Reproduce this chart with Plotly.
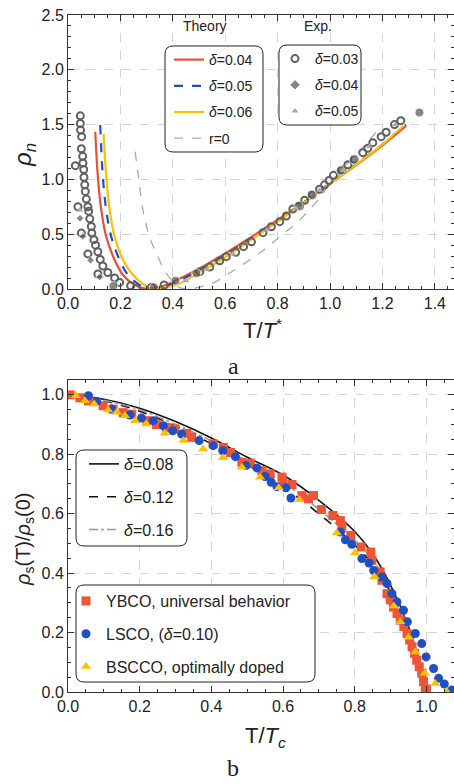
import plotly.graph_objects as go

# ---------------- panel a : rho_n vs T/T* ----------------
th04_x = [0.104, 0.114, 0.127, 0.146, 0.178, 0.21, 0.248, 0.279, 0.30, 0.32, 0.36, 0.40,
          0.5, 0.6, 0.7, 0.8, 0.9, 1.0, 1.1, 1.2, 1.29]
th04_y = [1.435, 1.025, 0.72, 0.477, 0.265, 0.128, 0.046, 0.012, 0.002, 0.004, 0.025, 0.065,
          0.185, 0.325, 0.475, 0.63, 0.79, 0.96, 1.13, 1.31, 1.487]
th05_x = [0.123, 0.133, 0.146, 0.165, 0.197, 0.229, 0.267, 0.29, 0.31, 0.33, 0.37, 0.41,
          0.5, 0.6, 0.7, 0.8, 0.9, 1.0, 1.1, 1.2, 1.29]
th05_y = [1.496, 1.025, 0.72, 0.477, 0.265, 0.128, 0.046, 0.015, 0.003, 0.004, 0.022, 0.06,
          0.17, 0.31, 0.465, 0.625, 0.79, 0.965, 1.14, 1.32, 1.50]
th06_x = [0.136, 0.146, 0.159, 0.178, 0.21, 0.248, 0.286, 0.31, 0.33, 0.35, 0.39, 0.43,
          0.5, 0.6, 0.7, 0.8, 0.9, 1.0, 1.1, 1.2, 1.28]
th06_y = [1.414, 1.025, 0.72, 0.477, 0.265, 0.128, 0.046, 0.015, 0.003, 0.004, 0.02, 0.055,
          0.15, 0.29, 0.45, 0.615, 0.785, 0.96, 1.135, 1.32, 1.49]
r0_x = [0.256, 0.269, 0.286, 0.311, 0.343, 0.368, 0.394, 0.419, 0.45, 0.48, 0.52, 0.566,
        0.62, 0.693, 0.75, 0.81, 0.88, 0.95, 1.0, 1.06, 1.12, 1.19]
r0_y = [1.253, 1.025, 0.72, 0.477, 0.295, 0.173, 0.082, 0.02, 0.0, 0.005, 0.03, 0.07,
        0.15, 0.265, 0.36, 0.48, 0.62, 0.8, 0.96, 1.13, 1.28, 1.47]

exp03_x = [0.047, 0.047, 0.048, 0.052, 0.028, 0.051, 0.056, 0.057, 0.060, 0.061, 0.064, 0.066,
           0.070, 0.076, 0.079, 0.083, 0.089, 0.091, 0.099, 0.105, 0.114, 0.123, 0.133, 0.152,
           0.178, 0.197, 0.239, 0.038, 0.051, 0.076, 0.114, 0.26, 0.319, 0.367,
           0.503, 0.541, 0.579, 0.604, 0.64, 0.67, 0.70, 0.744, 0.776, 0.808, 0.833, 0.858,
           0.884, 0.903, 0.932, 0.96, 0.979, 0.996, 1.013, 1.045, 1.068, 1.093, 1.125, 1.144,
           1.163, 1.195, 1.214, 1.246, 1.27]
exp03_y = [1.58, 1.51, 1.45, 1.39, 1.125, 1.28, 1.21, 1.15, 1.09, 1.02, 0.95, 0.89,
           0.82, 0.75, 0.71, 0.64, 0.57, 0.51, 0.45, 0.40, 0.34, 0.27, 0.21, 0.15,
           0.10, 0.06, 0.03, 0.75, 0.51, 0.32, 0.137, 0.006, 0.015, 0.036,
           0.158, 0.20, 0.258, 0.295, 0.335, 0.386, 0.43, 0.514, 0.568, 0.614, 0.666, 0.73,
           0.757, 0.81, 0.858, 0.91, 0.95, 0.99, 1.037, 1.086, 1.134, 1.183, 1.244, 1.284,
           1.335, 1.39, 1.43, 1.50, 1.536]
exp04_x = [0.046, 0.057, 0.086, 0.121, 0.173, 0.328, 0.41, 0.49, 0.88, 0.93, 1.04, 1.09, 1.341]
exp04_y = [0.645, 0.48, 0.263, 0.11, 0.027, 0.015, 0.076, 0.143, 0.76, 0.86, 1.08, 1.18, 1.61]
exp05_x = [0.045, 0.45, 0.53, 0.63, 0.76, 0.87, 0.96, 1.05, 1.15, 1.25]
exp05_y = [0.72, 0.076, 0.18, 0.32, 0.54, 0.74, 0.9, 1.08, 1.3, 1.5]

# ---------------- panel b : rho_s(T)/rho_s(0) vs T/Tc ----------------
b_x = [0.0, 0.1, 0.2, 0.3, 0.4, 0.5, 0.6, 0.7, 0.8, 0.85, 0.9, 0.95, 0.98, 1.0]
d08_y = [1.0, 0.985, 0.955, 0.91, 0.855, 0.79, 0.73, 0.645, 0.54, 0.465, 0.36, 0.22, 0.10, 0.0]
d12_y = [1.0, 0.98, 0.945, 0.895, 0.835, 0.765, 0.69, 0.60, 0.495, 0.43, 0.335, 0.20, 0.09, 0.0]
d16_y = [1.0, 0.982, 0.95, 0.90, 0.845, 0.775, 0.705, 0.615, 0.51, 0.445, 0.345, 0.21, 0.095, 0.0]

ybco_x = [0.006, 0.033, 0.057, 0.098, 0.126, 0.154, 0.178, 0.22, 0.247, 0.275, 0.298, 0.331,
          0.345, 0.405, 0.433, 0.453, 0.485, 0.509, 0.541, 0.564, 0.597, 0.60, 0.625, 0.653,
          0.671, 0.685, 0.707, 0.739, 0.76, 0.764, 0.789, 0.818, 0.845, 0.848, 0.871, 0.876,
          0.89, 0.899, 0.908, 0.918, 0.927, 0.937, 0.946, 0.953, 0.96, 0.967, 0.973, 0.98,
          0.987, 0.992, 0.997, 1.0]
ybco_y = [1.0, 0.99, 0.98, 0.963, 0.952, 0.94, 0.935, 0.913, 0.90, 0.89, 0.885, 0.87,
          0.857, 0.835, 0.823, 0.806, 0.773, 0.77, 0.745, 0.734, 0.723, 0.706, 0.698, 0.661,
          0.65, 0.661, 0.614, 0.594, 0.577, 0.558, 0.527, 0.488, 0.471, 0.443, 0.404, 0.376,
          0.331, 0.31, 0.286, 0.264, 0.242, 0.22, 0.197, 0.175, 0.152, 0.13, 0.107, 0.085,
          0.063, 0.035, 0.007, 0.01]
lsco_x = [0.057, 0.08, 0.122, 0.173, 0.205, 0.238, 0.266, 0.292, 0.317, 0.366, 0.405, 0.432,
          0.467, 0.497, 0.527, 0.55, 0.567, 0.583, 0.608, 0.622, 0.76, 0.774, 0.792, 0.82,
          0.84, 0.853, 0.876, 0.89, 0.904, 0.918, 0.936, 0.947, 0.969, 0.987, 0.999, 1.02,
          1.034, 1.05, 1.071]
lsco_y = [0.997, 0.977, 0.952, 0.932, 0.922, 0.913, 0.896, 0.879, 0.868, 0.846, 0.829, 0.812,
          0.792, 0.762, 0.754, 0.725, 0.706, 0.691, 0.687, 0.653, 0.538, 0.512, 0.497, 0.449,
          0.434, 0.409, 0.387, 0.365, 0.331, 0.303, 0.275, 0.236, 0.197, 0.163, 0.118, 0.079,
          0.046, 0.027, 0.007]
bscco_x = [0.022, 0.047, 0.073, 0.112, 0.136, 0.159, 0.187, 0.218, 0.27, 0.322, 0.377, 0.432,
           0.485, 0.536, 0.588, 0.646, 0.75, 0.801, 0.855, 0.909, 0.927, 0.95, 0.969, 0.995,
           1.025, 1.057]
bscco_y = [0.997, 0.98, 0.969, 0.949, 0.941, 0.93, 0.913, 0.902, 0.871, 0.846, 0.818, 0.788,
           0.756, 0.723, 0.687, 0.647, 0.535, 0.468, 0.388, 0.289, 0.236, 0.184, 0.135, 0.063,
           0.029, 0.001]

W, H = 454, 784
L, R, T, B = 68, 0, 15, 92
PW, PH = W - L - R, H - T - B
FONT = 'Liberation Sans'


def paper(px, py):
    return (px - L) / PW, (H - B - py) / PH


def rounded_box(x0, y0, x1, y1, r=8):
    pts = [('M', x0 + r, y0), ('L', x1 - r, y0), ('Q', x1, y0, x1, y0 + r),
           ('L', x1, y1 - r), ('Q', x1, y1, x1 - r, y1), ('L', x0 + r, y1),
           ('Q', x0, y1, x0, y1 - r), ('L', x0, y0 + r), ('Q', x0, y0, x0 + r, y0)]
    path = ''
    for p in pts:
        coords = p[1:]
        seg = []
        for i in range(0, len(coords), 2):
            u, v = paper(coords[i], coords[i + 1])
            seg.append(f'{u:.5f},{v:.5f}')
        path += p[0] + ' '.join(seg) + ' '
    return dict(type='path', path=path + 'Z', xref='paper', yref='paper',
                line=dict(color='#222', width=1), fillcolor='white', layer='above')


def legend_at(px, py, gap, size):
    u, v = paper(px, py)
    return dict(x=u, y=v, xanchor='left', yanchor='top', bgcolor='rgba(0,0,0,0)',
                borderwidth=0, tracegroupgap=gap, font=dict(family=FONT, size=size, color='#222'))


fig = go.Figure()

# panel a theory
for x, y, name, col, dash in [(th04_x, th04_y, '<i>δ</i>=0.04', '#E8503A', 'solid'),
                              (th05_x, th05_y, '<i>δ</i>=0.05', '#1F4FC4', 'dash'),
                              (th06_x, th06_y, '<i>δ</i>=0.06', '#FFBF00', 'solid')]:
    fig.add_trace(go.Scatter(x=x, y=y, mode='lines', name=name, legend='legend',
                             legendgroup=name + 'a', line=dict(color=col, width=2.2, dash=dash, shape='spline'),
                             xaxis='x', yaxis='y'))
fig.add_trace(go.Scatter(x=r0_x, y=r0_y, mode='lines', name='r=0', legend='legend', legendgroup='r0',
                         line=dict(color='#aaaaaa', width=1.3, dash='dash', shape='spline'),
                         xaxis='x', yaxis='y'))

# panel a experiment
fig.add_trace(go.Scatter(x=exp03_x, y=exp03_y, mode='markers', name='<i>δ</i>=0.03',
                         legend='legend2', legendgroup='e03',
                         marker=dict(symbol='circle-open', size=7, color='#606060',
                                     line=dict(width=2, color='#606060')),
                         xaxis='x', yaxis='y'))
fig.add_trace(go.Scatter(x=exp04_x, y=exp04_y, mode='markers', name='<i>δ</i>=0.04',
                         legend='legend2', legendgroup='e04',
                         marker=dict(symbol=['diamond'] * 4 + ['circle'] * 9,
                                     size=[6] * 4 + [9] * 9, color='#555555'),
                         xaxis='x', yaxis='y'))
fig.add_trace(go.Scatter(x=exp05_x, y=exp05_y, mode='markers', name='<i>δ</i>=0.05',
                         legend='legend2', legendgroup='e05',
                         marker=dict(symbol='triangle-up', size=6, color='#aaaaaa'),
                         xaxis='x', yaxis='y'))

# panel b theory
for y, name, col, dash in [(d08_y, '<i>δ</i>=0.08', '#111111', 'solid'),
                           (d12_y, '<i>δ</i>=0.12', '#111111', 'dash'),
                           (d16_y, '<i>δ</i>=0.16', '#999999', 'dashdot')]:
    fig.add_trace(go.Scatter(x=b_x, y=y, mode='lines', name=name, legend='legend3',
                             legendgroup=name + 'b', line=dict(color=col, width=1.6, dash=dash, shape='spline'),
                             xaxis='x2', yaxis='y2'))

# panel b experiment
for x, y, name, sym, col in [(ybco_x, ybco_y, 'YBCO, universal behavior', 'square', '#EE5535'),
                             (lsco_x, lsco_y, 'LSCO, (<i>δ</i>=0.10)', 'circle', '#1F4FC4'),
                             (bscco_x, bscco_y, 'BSCCO, optimally doped', 'triangle-up', '#FFBF00')]:
    fig.add_trace(go.Scatter(x=x, y=y, mode='markers', name=name, legend='legend4',
                             legendgroup=name, marker=dict(symbol=sym, size=9, color=col),
                             xaxis='x2', yaxis='y2'))

axis = dict(showline=True, linecolor='#333', linewidth=1, mirror='allticks',
            ticks='inside', ticklen=6, tickcolor='#333', automargin=False,
            showgrid=True, gridcolor='#d4d4d4', griddash='dash', gridwidth=1,
            zeroline=False, tickformat='.1f',
            tickfont=dict(family=FONT, size=16, color='#222'))


def minor(d):
    return dict(ticks='inside', ticklen=3, tickcolor='#333', dtick=d, showgrid=False)


fig.update_layout(
    width=W, height=H, plot_bgcolor='white', paper_bgcolor='white',
    margin=dict(l=L, r=R, t=T, b=B),
    font=dict(family=FONT, color='#222'),
    xaxis=dict(axis, range=[0, 1.473], dtick=0.2, minor=minor(0.05), domain=[0, 1], anchor='y'),
    yaxis=dict(axis, range=[0, 2.5], dtick=0.5, minor=minor(0.1), domain=[0.5953, 1], anchor='x'),
    xaxis2=dict(axis, range=[0, 1.077], dtick=0.2, minor=minor(0.05), domain=[0, 1], anchor='y2'),
    yaxis2=dict(axis, range=[0, 1.05], dtick=0.2, minor=minor(0.05), domain=[0, 0.4609], anchor='x2'),
    legend=legend_at(169, 44, 5, 14),
    legend2=legend_at(275, 43, 5, 14),
    legend3=legend_at(84, 447, 9, 16),
    legend4=legend_at(66, 584, 9, 16),
    shapes=[rounded_box(165, 46, 263, 152), rounded_box(279, 45, 361, 125),
            rounded_box(76, 450, 187, 546), rounded_box(76, 585, 315, 682)],
)

ann = [
    ('Theory', 205, 26, 14, FONT, 0),
    ('Exp.', 318, 26, 14, FONT, 0),
    ('<i>ρ</i><sub><i>n</i></sub>', 24, 155, 24, FONT, -90),
    ('T/<i>T</i><sup>*</sup>', 262, 329, 22, FONT, 0),
    ('a', 233, 366, 24, 'Liberation Serif', 0),
    ('<i>ρ</i><sub>s</sub>(T)/<i>ρ</i><sub>s</sub>(0)', 24, 540, 20, FONT, -90),
    ('T/<i>T</i><sub><i>c</i></sub>', 265, 737, 22, FONT, 0),
    ('b', 233, 768, 24, 'Liberation Serif', 0),
]
for text, px, py, size, fam, ang in ann:
    u, v = paper(px, py)
    fig.add_annotation(text=text, x=u, y=v, xref='paper', yref='paper', showarrow=False,
                       xanchor='center', yanchor='middle', textangle=ang,
                       font=dict(family=fam, size=size, color='#222'))

fig.write_html("out.html", config={'displayModeBar': False},
               post_script="document.body.style.margin='0px';")
